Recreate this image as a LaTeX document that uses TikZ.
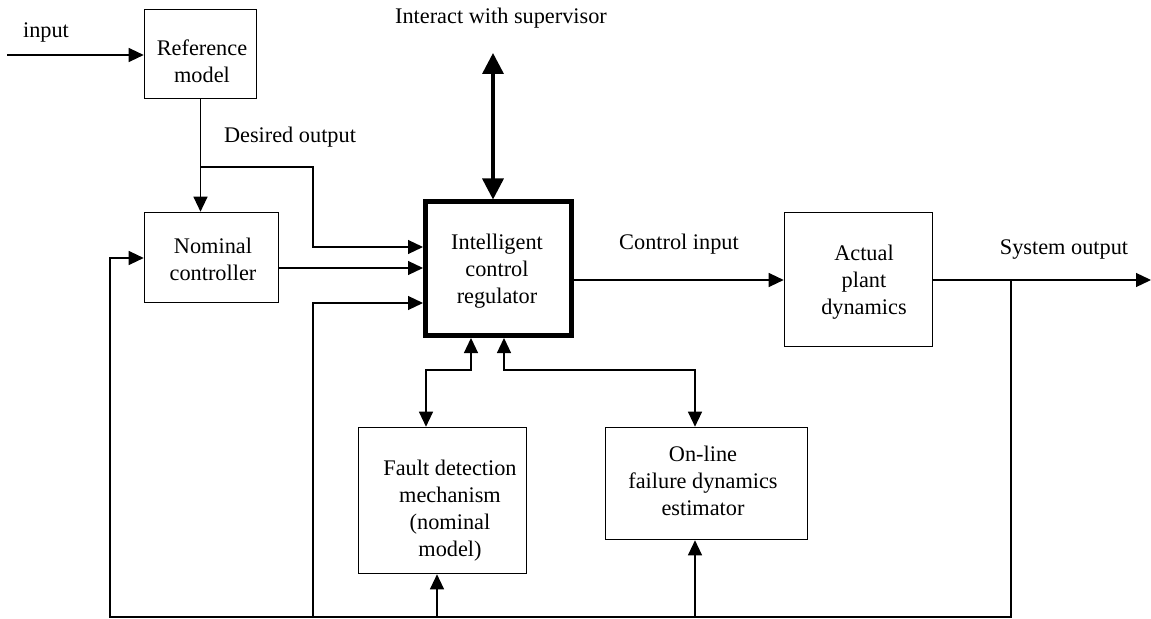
\documentclass[tikz,border=0pt]{standalone}
\usepackage{fontspec}
\setmainfont{Liberation Serif}
\usetikzlibrary{arrows.meta}
\begin{document}
\begin{tikzpicture}[x=1bp,y=-1bp,
  every node/.style={font=\fontsize{22.3bp}{27bp}\selectfont, inner sep=0pt},
  block/.style={draw, line width=1.6bp, rectangle},
  txt/.style={align=center},
  wire/.style={line width=1.2bp},
  arr/.style={wire, -{Triangle[length=15bp,width=14bp]}},
  arrtwo/.style={wire, {Triangle[length=15bp,width=14bp]}-{Triangle[length=15bp,width=14bp]}},
  bigarr/.style={line width=3.5bp, {Triangle[length=21bp,width=21bp]}-{Triangle[length=21bp,width=21bp]}}]
\useasboundingbox (0,0) rectangle (1151,619);

% blocks
\node[block, minimum width=112bp, minimum height=89bp] (ref) at (200.5,54) {};
\node[block, minimum width=134bp, minimum height=90bp] (nc) at (211.5,257.5) {};
\node[draw, line width=5bp, minimum width=145.5bp, minimum height=133.5bp] (icr) at (498.25,268.75) {};
\node[block, minimum width=148bp, minimum height=134bp] (ap) at (858.5,279.5) {};
\node[block, minimum width=168bp, minimum height=146bp] (fault) at (442.5,500.5) {};
\node[block, minimum width=202bp, minimum height=112bp] (online) at (706.5,483.5) {};

% block texts
\node[txt] (refT) at (202,61) {Reference\\model};
\node[txt] (ncT) at (213,259) {Nominal\\controller};
\node[txt] (icrT) at (497,271.5) {Intelligent\\control\\regulator};
\node[txt] (apT) at (864,282.5) {Actual\\plant\\dynamics};
\node[txt] (faultT) at (450,510.5) {Fault detection\\mechanism\\(nominal\\model)};
\node[txt] (onlineT) at (703,481) {On-line\\failure dynamics\\estimator};

% signal labels
\node (inputL) at (46,32) {input};
\node (desL) at (290,137) {Desired output};
\node (supL) at (501,18) {Interact with supervisor};
\node (ctlL) at (679,244) {Control input};
\node (sysL) at (1064,250) {System output};

% routing points
\coordinate (inS) at (7,55);
\coordinate (dj) at (200.5,167);
\coordinate (b1) at (313,247);
\coordinate (y2) at (0,268);
\coordinate (b3) at (313,303);
\coordinate (bot3) at (313,617);
\coordinate (fbR) at (1011,280);
\coordinate (fbC) at (1011,617);
\coordinate (fbL) at (110,617);
\coordinate (y258) at (0,258);
\coordinate (fdBot) at (437,617);
\coordinate (olBot) at (695,617);
\coordinate (outEnd) at (1151,280);
\coordinate (supTop) at (493,53);
\coordinate (yBus) at (0,370);
\coordinate (fx) at (426,0);
\coordinate (ix1) at (471,0);
\coordinate (ix2) at (504,0);
\coordinate (ox) at (695,0);

% connectors
\draw[arr] (inS) -- (inS -| ref.west);
\draw[arr] (ref.south) -- (ref.south |- nc.north);
\draw[arr] (dj) -| (b1) -- (b1 -| icr.west);
\draw[arr] (nc.east |- y2) -- (icr.west |- y2);
\draw[arr] (bot3) -- (b3) -- (b3 -| icr.west);
\draw[arr] (fbR) -- (fbC) -- (fbL) |- (nc.west |- y258);
\draw[arr] (fdBot) -- (fdBot |- fault.south);
\draw[arr] (olBot) -- (olBot |- online.south);
\draw[arrtwo] (fx |- fault.north) |- (ix1 |- yBus) -- (ix1 |- icr.south);
\draw[arrtwo] (ix2 |- icr.south) |- (ox |- yBus) -- (ox |- online.north);
\draw[arr] (icr.east |- fbR) -- (ap.west |- fbR);
\draw[arr] (ap.east |- fbR) -- (outEnd);
\draw[bigarr] (supTop) -- (supTop |- icr.north);
\end{tikzpicture}
\end{document}
